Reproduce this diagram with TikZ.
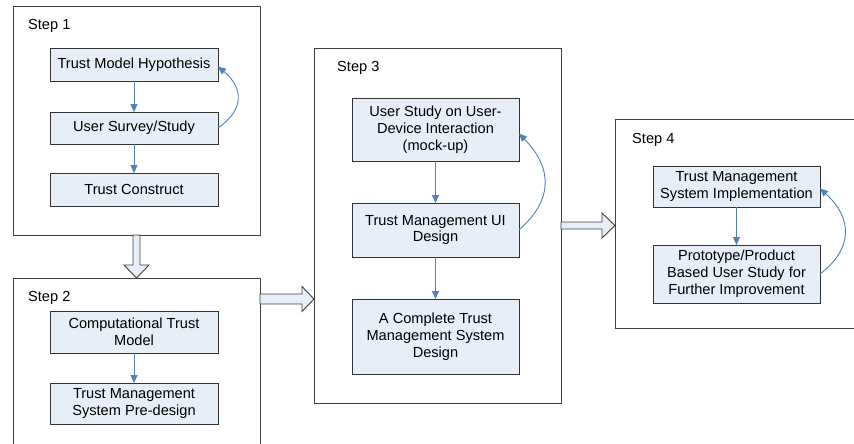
\documentclass[tikz,border=0pt]{standalone}
\usepackage{fontspec}
\setmainfont{Liberation Sans}
\usetikzlibrary{arrows.meta,calc}
\definecolor{boxfill}{RGB}{232,238,247}
\definecolor{arrowblue}{RGB}{79,129,189}
\definecolor{framegray}{RGB}{64,64,64}
\begin{document}
\begin{tikzpicture}[x=1pt,y=-1pt,
 frame/.style={draw=framegray, line width=0.9pt, fill=white, inner sep=0, outer sep=0},
 stepbox/.style={draw=black!80, line width=0.8pt, fill=boxfill, align=center, font=\fontsize{14.6}{16.8}\selectfont, inner sep=2pt, outer sep=0},
 steplabel/.style={font=\fontsize{14.6}{16.8}\selectfont, anchor=west, inner sep=0},
 flow/.style={draw=arrowblue, line width=0.9pt, -{Triangle[length=8pt,width=7pt]}},
 block/.style={draw=framegray, line width=0.9pt, fill=boxfill, line join=miter}]
\useasboundingbox (0,0) rectangle (854,444);
\clip (0,0) rectangle (854,444);
% frames
\node[frame, minimum width=247, minimum height=229] (s1) at (136.5,120.5) {};
\node[frame, minimum width=247, minimum height=190] (s2) at (136.5,373) {};
\node[frame, minimum width=247, minimum height=355] (s3) at (437.5,225.5) {};
\node[frame, minimum width=260, minimum height=209] (s4) at (745,223.5) {};
% labels
\node[steplabel] (l1) at (28,26) {Step 1};
\node[steplabel] (l2) at (28,298) {Step 2};
\node[steplabel] (l3) at (337,68) {Step 3};
\node[steplabel] (l4) at (632,140) {Step 4};
% block arrows
\draw[block] ($(s1.south)+(-3.5,0)$) -- ($(s2.north)+(-3.5,-13)$) -- ($(s2.north)+(-12.5,-13)$) -- (s2.north) -- ($(s2.north)+(12.5,-13)$) -- ($(s2.north)+(3.5,-13)$) -- ($(s1.south)+(3.5,0)$) -- cycle;
\coordinate (t2) at ($(s2.north east)+(0,21)$);
\coordinate (h2) at (s3.west |- t2);
\draw[block] ($(t2)+(0,-5)$) -- ($(h2)+(-12,-5)$) -- ($(h2)+(-12,-12.5)$) -- (h2) -- ($(h2)+(-12,12.5)$) -- ($(h2)+(-12,5)$) -- ($(t2)+(0,5)$) -- cycle;
\coordinate (h3) at (s4.west |- s3.east);
\draw[block] ($(s3.east)+(0,-3.5)$) -- ($(h3)+(-13,-3.5)$) -- ($(h3)+(-13,-12.5)$) -- (h3) -- ($(h3)+(-13,12.5)$) -- ($(h3)+(-13,3.5)$) -- ($(s3.east)+(0,3.5)$) -- cycle;
% step 1
\node[stepbox, minimum width=168, minimum height=33] (h1) at (134,64.5) {Trust Model Hypothesis};
\node[stepbox, minimum width=168, minimum height=32] (u1) at (134,128) {User Survey/Study};
\node[stepbox, minimum width=168, minimum height=33] (c1) at (134,189.5) {Trust Construct};
% step 2
\node[stepbox, minimum width=168, minimum height=42] (ct) at (134,332) {Computational Trust\\Model};
\node[stepbox, minimum width=168, minimum height=41] (pd) at (134,403.5) {Trust Management\\System Pre-design};
% step 3
\node[stepbox, minimum width=167, minimum height=63] (us) at (435.5,129.5) {User Study on User-\\Device Interaction\\(mock-up)};
\node[stepbox, minimum width=167, minimum height=54] (ui) at (435.5,230) {Trust Management UI\\Design};
\node[stepbox, minimum width=167, minimum height=75] (cd) at (435.5,336.5) {A Complete Trust\\Management System\\Design};
% step 4
\node[stepbox, minimum width=167, minimum height=41] (im) at (736.5,186.5) {Trust Management\\System Implementation};
\node[stepbox, minimum width=167, minimum height=58] (pp) at (736.5,274) {Prototype/Product\\Based User Study for\\Further Improvement};
% flows
\draw[flow] (h1) -- (u1);
\draw[flow] (u1) -- (c1);
\draw[flow] (ct) -- (pd);
\draw[flow] (us) -- (ui);
\draw[flow] (ui) -- (cd);
\draw[flow] (im) -- (pp);
% feedback
\draw[flow] (u1.east) .. controls +(26,-18) and +(26,22) .. ($(h1.east)+(0,2)$);
\draw[flow] (ui.east) .. controls +(34,-30) and +(34,35) .. ($(us.east)+(0,4)$);
\draw[flow] (pp.east) .. controls +(33,-25) and +(33,30) .. ($(im.east)+(0,2)$);
\end{tikzpicture}
\end{document}
